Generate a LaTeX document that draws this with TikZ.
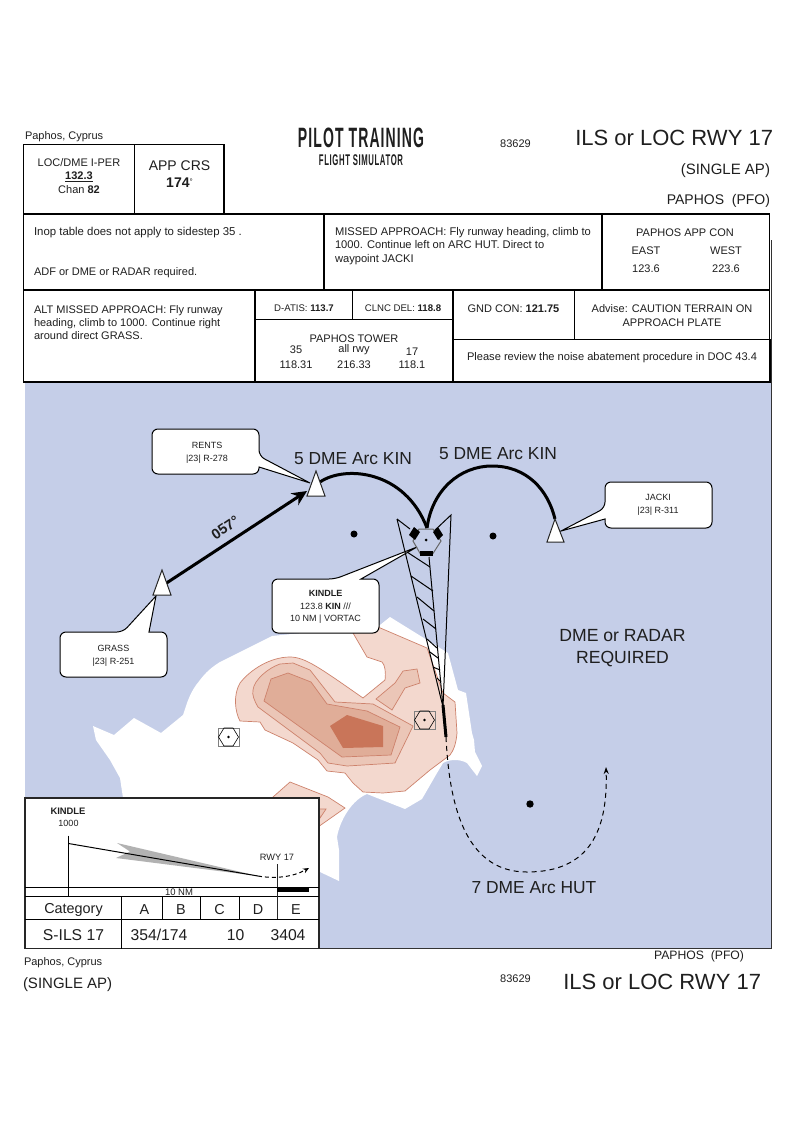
\documentclass[tikz,border=0pt]{standalone}
\usepackage{fontspec}
\setmainfont{Liberation Sans}
\newfontfamily\logofont[FakeStretch=0.5,LetterSpace=4]{Liberation Sans Bold}
\usetikzlibrary{arrows.meta}
\definecolor{sea}{RGB}{197,206,232}
\definecolor{terA}{RGB}{243,216,206}
\definecolor{terB}{RGB}{235,198,183}
\definecolor{terC}{RGB}{224,173,152}
\definecolor{terD}{RGB}{201,117,89}
\definecolor{terLine}{RGB}{205,130,108}
\newcommand{\fsz}[1]{\fontsize{#1}{#1}\selectfont}
\tikzset{
  cell/.style={draw=black,line width=1.2pt,fill=white},
  terr/.style={draw=terLine,line width=.7pt},
  txt/.style={inner sep=0pt,outer sep=0pt,font=\fsz{11},text=black!88,align=center,yshift=-1.5pt},
  txtl/.style={txt,anchor=west,align=left},
  txtr/.style={txt,anchor=east,align=right},
  callout/.style={draw=black,line width=1pt,fill=white},
  wpt/.style={draw=black!85,line width=1pt,fill=white},
  arcline/.style={line width=3pt,draw=black},
  hatch/.style={line width=1pt,draw=black},
  dot/.style={fill=black}
}
\begin{document}
\begin{tikzpicture}[x=1pt,y=-1pt]
\useasboundingbox (0,0) rectangle (794,1123);
\fill[white] (0,0) rectangle (794,1123);
% map
\draw[draw=black!80,line width=1pt] (25,240) -- (25,948.5) -- (771,948.5) -- (771,240);
\fill[sea] (25,382) rectangle (771,948);
% land
\fill[white] (123,798) -- (120,778) -- (110,760) -- (96,740) -- (93,726) -- (114,735) -- (134,718) -- (161,733) -- (183,715) -- (187,703) .. controls (191,692) and (195,686) .. (200,680) .. controls (206,672) and (212,667) .. (220,662) -- (260,642) -- (272,636) -- (380,625) -- (390,617) -- (448,653) -- (458,690) -- (466,693) -- (472,733) -- (474,740) -- (475,752) -- (482,766) -- (477,776) -- (467,763) .. controls (460,759) and (450,759) .. (443,763) -- (437,773) -- (422,799) -- (405,809) -- (367,794) .. controls (352,800) and (340,820) .. (337,837) -- (339,850) -- (339,881) -- (320,872) -- (300,850) -- cycle;
% terrain
\filldraw[terr,fill=terA] (378,627) -- (427,648) -- (443,693) -- (455,702) -- (457,733) .. controls (456,745) and (453,751) .. (450,755) -- (430,770) -- (405,791) -- (383,793) -- (363,792) -- (353,783) -- (345,773) -- (327,771) -- (318,760) -- (293,743) -- (265,730) -- (260,722) -- (240,721) .. controls (235,712) and (233,695) .. (240,683) .. controls (250,670) and (270,657) .. (290,657) .. controls (305,657) and (320,668) .. (363,698) -- (385,680) .. controls (386,672) and (385,665) .. (382,662) -- (367,657) -- (353,633) -- cycle;
\filldraw[terr,fill=terB] (280,664) -- (293,663) -- (310,670) -- (335,702) -- (373,704) -- (413,726) -- (395,763) -- (347,766) -- (328,763) -- (320,753) -- (258,707) .. controls (254,700) and (252,695) .. (253,690) .. controls (254,680) and (268,668) .. (280,664) -- cycle;
\filldraw[terr,fill=terC] (271,679) -- (288,673) -- (311,682) -- (327,704) -- (367,711) -- (400,727) -- (391,755) -- (342,757) -- (264,701) -- cycle;
\filldraw[draw=none,fill=terD] (347,715) -- (383,726) -- (383,747) -- (343,748) -- (330,726) -- cycle;
\filldraw[terr,fill=terB] (403,671) -- (417,669) -- (420,683) -- (405,688) -- (392,710) -- (376,699) -- (395,683) -- cycle;
\filldraw[terr,fill=terA] (290,782) -- (328,797) -- (345,808) -- (318,827) -- (273,797) -- cycle;
\filldraw[terr,fill=terB] (319,809) -- (326,809) -- (320,818) -- cycle;
% fixes on land
\draw[black!50,line width=.7pt] (218,728) rectangle (239,746);
\draw[black,line width=.6pt] (224,728) -- (233,728) -- (238.5,737) -- (233,746) -- (224,746) -- (218.5,737) -- cycle;
\fill[dot] (228.5,737) circle (1.3);
\draw[black!50,line width=.7pt] (414,711) rectangle (435,729);
\draw[black,line width=.6pt] (420,711) -- (429,711) -- (434.5,720) -- (429,729) -- (420,729) -- (414.5,720) -- cycle;
\fill[dot] (424.5,720) circle (1.3);
% waypoints
\coordinate (grassW) at (165,584);
\coordinate (rentsW) at (307,491);
\coordinate (arcA) at (320,482);
\coordinate (kinV) at (427,528);
\coordinate (arcEnd) at (555,519);
% callouts
\draw[callout] (123,632) [sharp corners] -- (156,596) -- (149,632) [rounded corners=6] -- (167,632) -- (167,677) -- (60,677) -- (60,632) -- cycle;
\draw[callout] (259,456) [sharp corners] -- (310,483) -- (259,467) [rounded corners=6] -- (259,474) -- (152,474) -- (152,429) -- (259,429) -- cycle;
\draw[callout] (335,579) [sharp corners] -- (417,547) -- (361,579) [rounded corners=6] -- (379,579) -- (379,633) -- (272,633) -- (272,579) -- cycle;
\draw[callout] (605,508) [sharp corners] -- (561,531) -- (605,519) [rounded corners=6] -- (605,528) -- (712,528) -- (712,482) -- (605,482) -- cycle;
\node[txt,font=\fsz{9}] (grass) at (113.5,654) {GRASS\\[4pt]|23| R-251};
\node[txt,font=\fsz{9}] (rents) at (207,451) {RENTS\\[4pt]|23| R-278};
\node[txt,font=\fsz{9}] (jacki) at (658,503) {JACKI\\[4pt]|23| R-311};
\node[txt,font=\fsz{9}] (kindle) at (325.5,605.5) {\textbf{KINDLE}\\[3.3pt]123.8 \textbf{KIN} ///\\[3.3pt]10 NM | VORTAC};
% feather
\draw[line width=1pt] (397,519) -- (443,707) -- (451,515) -- (434,531);
\draw[line width=1pt] (397,519) -- (410,529);
\draw[line width=1pt] (429,557) -- (443,707);
\draw[hatch] (407,552) -- (430,567) (411,576) -- (433,591) (417,597) -- (434,611) (423,619) -- (436,629) (427,639) -- (437,648) (430,652) -- (438,658) (433,667) -- (440,670) (437,678) -- (441,682);
\draw[line width=3pt] (443,705) -- (446,737);
% VOR
\draw[black!60,line width=1pt] (419,529) -- (433,529) -- (441,541) -- (432,555) -- (421,555) -- (413,541) -- cycle;
\fill[black] (409,535) -- (414,527) -- (420,532) -- (415,540) -- cycle;
\fill[black] (433,532) -- (438,527) -- (443,535) -- (438,540) -- cycle;
\fill[black] (420,551) rectangle (433,556);
\fill[dot] (426,540) circle (1.5);
% tracks
\draw[line width=3pt,-{Stealth[length=15pt,width=14pt,inset=5pt]}] (grassW) -- (rentsW);
\draw[arcline] (arcA) .. controls (345,465) and (405,470) .. (kinV);
\draw[arcline] (kinV) .. controls (432,490) and (460,466) .. (492,466) .. controls (527,466) and (548,490) .. (arcEnd);
\draw[line width=1pt,dash pattern=on 5pt off 4pt,-{Stealth[length=7pt,width=5pt]}] (446,737) .. controls (449,800) and (463,872) .. (527,872) .. controls (590,872) and (608,830) .. (606,767);
\draw[wpt] (162,570) -- (171,595) -- (153,595) -- cycle;
\draw[wpt] (316,471) -- (325,496) -- (307,496) -- cycle;
\draw[wpt] (555,519) -- (564,542) -- (547,542) -- cycle;
\fill[dot] (354,534) circle (3.5);
\fill[dot] (493,536) circle (3.5);
\fill[dot] (530,804) circle (3.7);
\node[txt,font=\fsz{14.5}\bfseries,rotate=34,yshift=1.5pt] (brg) at (226,527.5) {057°};
\node[txt,font=\fsz{17.4}] (arc1) at (353,457) {5 DME Arc KIN};
\node[txt,font=\fsz{17.4}] (arc2) at (498,452) {5 DME Arc KIN};
\node[txt,font=\fsz{17.4}] (arc3) at (534,886) {7 DME Arc HUT};
\node[txt,font=\fsz{17.6}] (dme) at (622.5,647) {DME or RADAR\\[4.5pt]REQUIRED};
% header cells
\draw[cell] (23.5,144.5) rectangle (134.5,214);
\draw[cell] (134.5,144.5) rectangle (224,214);
\draw[cell] (23.5,214) rectangle (324,290);
\draw[cell] (324,214) rectangle (602,290);
\draw[cell] (602,214) rectangle (769.5,290);
\draw[cell] (23.5,290) rectangle (255,382);
\draw[cell] (255,290) rectangle (352.5,319.5);
\draw[cell] (352.5,290) rectangle (453,319.5);
\draw[cell] (255,319.5) rectangle (453,382);
\draw[cell] (453,290) rectangle (574.5,339.5);
\draw[cell] (574.5,290) rectangle (769.5,339.5);
\draw[cell] (453,339.5) rectangle (770,382);
% header text
\node[txtl] (t1) at (25,135) {Paphos, Cyprus};
\node[txt] (l1) at (79,161.5) {LOC/DME I-PER};
\node[txt] (l2) at (79,175) {\textbf{\underline{132.3}}};
\node[txt] (l3) at (79,188.5) {Chan \textbf{82}};
\node[txt,font=\fsz{14}] (c1) at (179.5,164) {APP CRS};
\node[txt,font=\fsz{14}] (c2) at (179.5,181) {\textbf{174}\raisebox{3pt}{\fsz{8}°}};
\node[txt,font=\fsz{28}\logofont] (logoA) at (361,136) {PILOT TRAINING};
\node[txt,font=\fsz{15.5}\logofont] (logoB) at (361,159) {FLIGHT SIMULATOR};
\node[txt] (n1) at (515.5,142.5) {83629};
\node[txtr,font=\fsz{22}] (h1) at (773,136.5) {ILS or LOC RWY 17};
\node[txtr,font=\fsz{15}] (h2) at (770,169) {(SINGLE AP)};
\node[txtr,font=\fsz{14}] (h3) at (770,199) {PAPHOS\ \ (PFO)};
\node[txtl,font=\fsz{11.4}] (r1) at (34,231) {Inop table does not apply to sidestep 35 .};
\node[txtl] (r2) at (34,271) {ADF or DME or RADAR required.};
\node[txtl,font=\fsz{11.15}] (m1) at (335,244.5) {MISSED APPROACH: Fly runway heading, climb to\\[2.3pt]1000. Continue left on ARC HUT. Direct to\\[2.3pt]waypoint JACKI};
\node[txt] (a1) at (685,231) {PAPHOS APP CON};
\node[txt] (a2) at (646,249) {EAST};
\node[txt] (a3) at (726,249) {WEST};
\node[txt] (a4) at (646,267) {123.6};
\node[txt] (a5) at (726,267) {223.6};
\node[txtl] (alt) at (34,321) {ALT MISSED APPROACH: Fly runway\\[2.4pt]heading, climb to 1000. Continue right\\[2.4pt]around direct GRASS.};
\node[txt,font=\fsz{9.6}] (d1) at (304,306.5) {D-ATIS: \textbf{113.7}};
\node[txt,font=\fsz{9.6}] (d2) at (403,306.5) {CLNC DEL: \textbf{118.8}};
\node[txt] (tw) at (354,337) {PAPHOS TOWER};
\node[txt] (tw1) at (296,348.5) {35};
\node[txt] (tw2) at (354,348) {all rwy};
\node[txt] (tw3) at (412,350.5) {17};
\node[txt] (tw4) at (296,363) {118.31};
\node[txt] (tw5) at (354,363) {216.33};
\node[txt] (tw6) at (412,363) {118.1};
\node[txt] (g1) at (513.5,307.5) {GND CON: \textbf{121.75}};
\node[txt] (ad) at (672,314) {Advise: CAUTION TERRAIN ON\\[2.4pt]APPROACH PLATE};
\node[txt,font=\fsz{11.1}] (pl) at (612,356.5) {Please review the noise abatement procedure in DOC 43.4};
% profile
\draw[cell,draw=black!85] (25,798) rectangle (319,948.5);
\fill[black!30] (117,843) -- (258,876) -- (116,858) -- (130,851.5) -- cycle;
\coordinate (pfA) at (68.5,843.5);
\coordinate (pfB) at (258,876);
\coordinate (pfC) at (309,868);
\draw[line width=1pt] (pfA) -- (pfB);
\draw[line width=1pt,dash pattern=on 4pt off 3pt,-{Stealth[length=6pt,width=5pt]}] (pfB) .. controls (275,879) and (293,877) .. (pfC);
\draw[line width=1pt] (25,887) -- (319,887) (25,896.7) -- (319,896.7);
\draw[line width=1pt] (68.5,835.5) -- (68.5,896.7);
\draw[line width=1pt,black!85] (277,864) -- (277,919.3);
\fill[black] (277,887) rectangle (309,892);
\draw[line width=1pt] (25,919.3) -- (319,919.3);
\draw[line width=1.2pt] (121.7,896.7) -- (121.7,948.5);
\draw[line width=1pt] (162.7,896.7) -- (162.7,919.3) (200,896.7) -- (200,919.3) (239,896.7) -- (239,919.3);
\node[txt,font=\fsz{9.4}\bfseries] (pk) at (68,809.5) {KINDLE};
\node[txt,font=\fsz{9}] (pk2) at (68.5,821.5) {1000};
\node[txt,font=\fsz{9.2}] (pr) at (277,855.5) {RWY 17};
\node[txt,font=\fsz{9.5}] (pn) at (179,890.5) {10 NM};
\node[txt,font=\fsz{14.4}] (tc) at (73.5,908) {Category};
\node[txt,font=\fsz{14.4}] (ta) at (144.5,908.5) {A};
\node[txt,font=\fsz{14.4}] (tb) at (181,908.5) {B};
\node[txt,font=\fsz{14.4}] (tcc) at (219.5,908.5) {C};
\node[txt,font=\fsz{14.4}] (td) at (258,908.5) {D};
\node[txt,font=\fsz{14.4}] (te) at (296,908.5) {E};
\node[txt,font=\fsz{15.7}] (vs) at (73.5,933.5) {S-ILS 17};
\node[txt,font=\fsz{15.7}] (v1) at (159,933.5) {354/174};
\node[txt,font=\fsz{15.7}] (v2) at (235.5,933.5) {10};
\node[txt,font=\fsz{15.7}] (v3) at (288,933.5) {3404};
% footer
\node[txtl] (f1) at (24,961.5) {Paphos, Cyprus};
\node[txtl,font=\fsz{15}] (f2) at (23,983) {(SINGLE AP)};
\node[txt] (f3) at (515.5,977.5) {83629};
\node[txtr,font=\fsz{22}] (f4) at (761,980) {ILS or LOC RWY 17};
\node[txtr,font=\fsz{12.2}] (f5) at (744,955) {PAPHOS\ \ (PFO)};
\end{tikzpicture}
\end{document}
